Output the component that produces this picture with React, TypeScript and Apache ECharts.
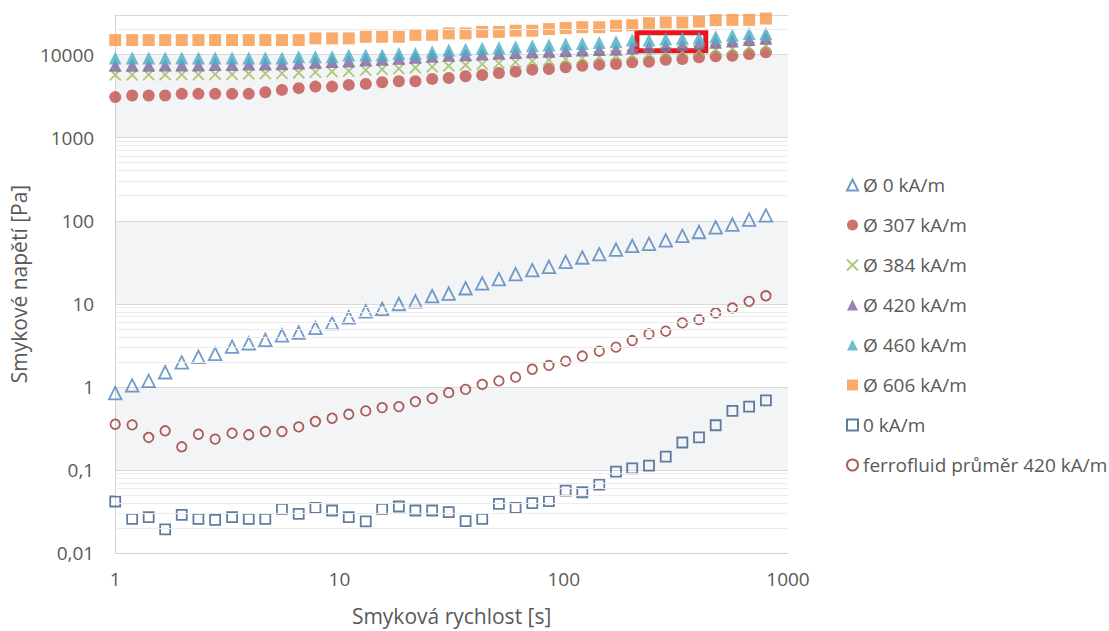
import React, { useEffect, useRef } from 'react';
import * as echarts from 'echarts';

// Shear rate [1/s] (x axis)
const shearRate = [1, 1.19, 1.41, 1.67, 1.98, 2.35, 2.79, 3.32, 3.94, 4.67, 5.54, 6.58, 7.81, 9.27, 11.0, 13.1, 15.5, 18.4, 21.8, 25.9, 30.7, 36.5, 43.3, 51.4, 61.0, 72.4, 85.9, 102, 121, 144, 171, 202, 240, 285, 338, 401, 476, 565, 671, 797];

// Shear stress [Pa] per series
const d0 = [0.84, 1.04, 1.18, 1.50, 1.97, 2.30, 2.50, 3.05, 3.34, 3.68, 4.17, 4.50, 5.13, 5.84, 6.89, 8.13, 8.66, 9.95, 10.7, 12.4, 13.3, 15.4, 17.6, 19.8, 22.8, 25.4, 27.9, 32.0, 36.1, 39.6, 45.0, 49.7, 52.6, 58.2, 65.6, 73.2, 83.4, 89.8, 103, 116];
const d307 = [3080, 3220, 3220, 3220, 3370, 3370, 3370, 3370, 3370, 3530, 3760, 3950, 4120, 4120, 4320, 4440, 4650, 4790, 4790, 5100, 5240, 5490, 5690, 6010, 6240, 6590, 6720, 7040, 7360, 7570, 7710, 8090, 8220, 8690, 8850, 9290, 9550, 9700, 10170, 10660];
const d384 = [5700, 5700, 5750, 5750, 5750, 5750, 5800, 5800, 5850, 5900, 5950, 6050, 6150, 6250, 6350, 6500, 6650, 6800, 6950, 7100, 7300, 7500, 7700, 7900, 8100, 8350, 8600, 8850, 9100, 9400, 9700, 9950, 10250, 10550, 10850, 11150, 11450, 11850, 12250, 12650];
const d420 = [7440, 7440, 7440, 7500, 7500, 7500, 7600, 7600, 7700, 7700, 7780, 7950, 8100, 8250, 8400, 8600, 8800, 9050, 9300, 9550, 9800, 10000, 10200, 10400, 10600, 10800, 11000, 11200, 11400, 11500, 11570, 12000, 12400, 12800, 13200, 13600, 14100, 14600, 15200, 15800];
const d460 = [9100, 9100, 9100, 9100, 9100, 9100, 9100, 9100, 9100, 9100, 9100, 9440, 9440, 9440, 9890, 9890, 9890, 10350, 10350, 10800, 11350, 11570, 11900, 12100, 12450, 12790, 13030, 13400, 13650, 14040, 14290, 14960, 15000, 15380, 15700, 16000, 16400, 17150, 17960, 17960];
const d606 = [14960, 14960, 14960, 14960, 14960, 14960, 14960, 14960, 14960, 14960, 14960, 14960, 15700, 15700, 15700, 16400, 16400, 16400, 17300, 17300, 18000, 18000, 18800, 18800, 19400, 19400, 20300, 20900, 21400, 21400, 22200, 22600, 23900, 24400, 24400, 25000, 26000, 26200, 26200, 27200];
const zeroField = [0.0417, 0.0258, 0.0270, 0.0192, 0.0288, 0.0258, 0.0251, 0.0270, 0.0258, 0.0258, 0.0340, 0.0296, 0.0349, 0.0325, 0.0270, 0.0240, 0.0340, 0.0363, 0.0325, 0.0325, 0.0310, 0.0242, 0.0258, 0.0390, 0.0349, 0.0398, 0.0421, 0.0565, 0.0539, 0.0667, 0.0954, 0.1045, 0.1127, 0.1443, 0.214, 0.246, 0.345, 0.514, 0.579, 0.689];
const ferro = [0.355, 0.349, 0.246, 0.296, 0.190, 0.269, 0.235, 0.277, 0.265, 0.290, 0.290, 0.330, 0.383, 0.419, 0.468, 0.514, 0.563, 0.579, 0.665, 0.728, 0.852, 0.933, 1.07, 1.18, 1.31, 1.63, 1.81, 2.04, 2.35, 2.69, 3.01, 3.61, 4.34, 4.68, 5.89, 6.45, 7.76, 8.91, 10.7, 12.5];

const seriesNames = ['Ø 0 kA/m', 'Ø 307 kA/m', 'Ø 384 kA/m', 'Ø 420 kA/m', 'Ø 460 kA/m', 'Ø 606 kA/m', '0 kA/m', 'ferrofluid průměr 420 kA/m'];

// Axis ranges
const xMin = 1;
const xMax = 1000;
const yMin = 0.01;
const yMax = 30000;

// Minor gridline values (white decades)
const minorY = [0.02, 0.03, 0.04, 0.05, 0.06, 0.07, 0.08, 0.09, 2, 3, 4, 5, 6, 7, 8, 9, 200, 300, 400, 500, 600, 700, 800, 900, 20000];

// Highlight box (data coordinates)
const boxX = [212, 430];
const boxY = [18400, 11100];

const FONT = "'Open Sans', sans-serif";
const TEXT = '#595959';

const isPow10 = (v: number) => {
  const l = Math.log10(v);
  return Math.abs(l - Math.round(l)) < 1e-6;
};
const fmt = (v: number) => (isPow10(v) ? String(Number(v.toPrecision(6))).replace('.', ',') : '');

const pts = (vals: number[]) => shearRate.map((x, i) => [x, vals[i]]);
const OPEN = 'rgba(0,0,0,0)';

export default function App() {
  const ref = useRef<HTMLDivElement>(null);
  useEffect(() => {
    document.body.style.margin = '0';
    const chart = echarts.init(ref.current!, null, { renderer: 'svg' });
    const option: any = {
      animation: false,
      backgroundColor: '#ffffff',
      grid: { left: 113, right: 321, top: 15, bottom: 75, containLabel: false },
      xAxis: {
        type: 'log',
        logBase: 10,
        min: xMin,
        max: xMax,
        name: 'Smyková rychlost [s]',
        nameLocation: 'middle',
        nameGap: 52,
        nameTextStyle: { fontFamily: FONT, fontSize: 21, color: TEXT },
        axisLine: { show: true, lineStyle: { color: '#d0d0d0', width: 1 } },
        axisTick: { show: false },
        splitLine: { show: false },
        axisLabel: { fontFamily: FONT, fontSize: 19, color: TEXT, margin: 16, formatter: fmt },
      },
      yAxis: {
        type: 'log',
        logBase: 10,
        min: yMin,
        max: yMax,
        name: 'Smykové napětí [Pa]',
        nameLocation: 'middle',
        nameGap: 83,
        nameRotate: 90,
        nameTextStyle: { fontFamily: FONT, fontSize: 21, color: TEXT },
        axisLine: { show: true, lineStyle: { color: '#d0d0d0', width: 1 } },
        axisTick: { show: false },
        splitLine: { show: true, lineStyle: { color: '#d9d9d9', width: 1 } },
        splitArea: { show: true, areaStyle: { color: ['#ffffff', '#f3f4f6'] } },
        axisLabel: { fontFamily: FONT, fontSize: 19, color: TEXT, margin: 21, formatter: fmt },
      },
      legend: {
        orient: 'vertical',
        left: 846,
        top: 175,
        padding: 0,
        itemGap: 20,
        itemWidth: 11,
        itemHeight: 11,
        textStyle: { fontFamily: FONT, fontSize: 19, color: TEXT, lineHeight: 20 },
        data: seriesNames,
      },
      series: [
        {
          type: 'line', data: [], z: 1, silent: true,
          markLine: {
            silent: true, symbol: ['none', 'none'], label: { show: false },
            lineStyle: { color: '#ececec', width: 1, type: 'solid' },
            data: minorY.map((v) => ({ yAxis: v })),
          },
        },
        { name: seriesNames[0], type: 'scatter', data: pts(d0), symbol: 'triangle', symbolSize: 12.5, itemStyle: { color: OPEN, borderColor: '#4f81bd', borderWidth: 1.8 }, z: 3 },
        { name: seriesNames[1], type: 'scatter', data: pts(d307), symbol: 'circle', symbolSize: 12, itemStyle: { color: '#c0504d' }, z: 3 },
        { name: seriesNames[2], type: 'scatter', data: pts(d384), symbol: 'path://M0,0L10,10M0,10L10,0', symbolSize: 11, itemStyle: { color: OPEN, borderColor: '#9bbb59', borderWidth: 1.8 }, z: 3 },
        { name: seriesNames[3], type: 'scatter', data: pts(d420), symbol: 'triangle', symbolSize: 13, itemStyle: { color: '#8064a2' }, z: 3 },
        { name: seriesNames[4], type: 'scatter', data: pts(d460), symbol: 'triangle', symbolSize: 13, itemStyle: { color: '#4bacc6' }, z: 3 },
        { name: seriesNames[5], type: 'scatter', data: pts(d606), symbol: 'rect', symbolSize: 12, itemStyle: { color: '#f79646' }, z: 3 },
        { name: seriesNames[6], type: 'scatter', data: pts(zeroField), symbol: 'rect', symbolSize: 10, itemStyle: { color: OPEN, borderColor: '#385d8a', borderWidth: 1.8 }, z: 3 },
        { name: seriesNames[7], type: 'scatter', data: pts(ferro), symbol: 'circle', symbolSize: 9.5, itemStyle: { color: OPEN, borderColor: '#953735', borderWidth: 1.8 }, z: 3 },
        {
          type: 'scatter', data: [], z: 10, silent: true,
          markArea: {
            silent: true,
            itemStyle: { color: 'rgba(0,0,0,0)', borderColor: '#e8161c', borderWidth: 5 },
            data: [[{ coord: [boxX[0], boxY[0]] }, { coord: [boxX[1], boxY[1]] }]],
          },
        },
      ],
    };
    chart.setOption(option);
    return () => chart.dispose();
  }, []);
  return <div ref={ref} style={{ width: 1109, height: 631 }} />;
}
